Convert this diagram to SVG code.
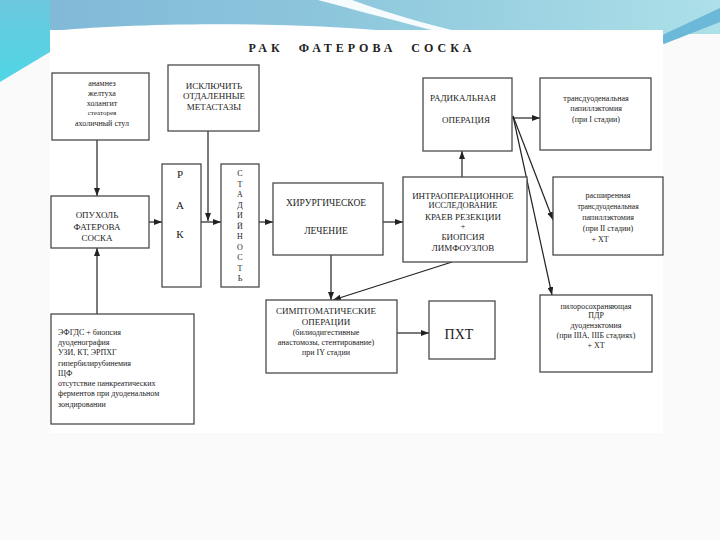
<svg xmlns="http://www.w3.org/2000/svg" width="720" height="540" viewBox="0 0 720 540">
<defs>
<linearGradient id="band" x1="0" y1="0" x2="1" y2="0">
<stop offset="0" stop-color="#7fb7d6"/>
<stop offset="0.45" stop-color="#8cc6dc"/>
<stop offset="1" stop-color="#ade0e8"/>
</linearGradient>
<linearGradient id="leftc" x1="0" y1="0" x2="0" y2="1">
<stop offset="0" stop-color="#6cc8de"/>
<stop offset="1" stop-color="#4fd6e6"/>
</linearGradient>
<marker id="ar" markerWidth="8" markerHeight="6" refX="8" refY="3" orient="auto" markerUnits="userSpaceOnUse">
<path d="M0,0 L8,3 L0,6 z" fill="#222"/>
</marker>
<style>
.box{fill:#fff;stroke:#4a4a4a;stroke-width:1.3}
.t{font-family:"Liberation Serif","DejaVu Serif",serif;fill:#222;text-anchor:middle}
.s{font-size:8px}
.m{font-size:9px}
.c{stroke:#222;stroke-width:1.2;fill:none;marker-end:url(#ar)}
</style>
</defs>
<rect width="720" height="540" fill="#fafafa"/>
<!-- top decoration -->
<rect x="0" y="0" width="720" height="34" fill="url(#band)"/>
<path d="M0,0 L50,0 L50,52 L0,82 Z" fill="url(#leftc)"/>
<path d="M318,0 L352,0 C385,12 425,24 460,32 L440,32 C400,22 355,10 318,0 Z" fill="#f6fbfd"/>
<path d="M50,31 C120,24 260,20 390,31 Z" fill="#ffffff"/>
<path d="M656,38 L720,8 L720,22 L664,44 Z" fill="#6bb8d8"/>
<rect x="50" y="30" width="613" height="403" fill="#ffffff"/>
<!-- title -->
<text x="362" y="52" class="t" style="font-size:12px;font-weight:bold;letter-spacing:4px;word-spacing:8px">РАК ФАТЕРОВА СОСКА</text>

<g id="connectors">
<line class="c" x1="97" y1="140" x2="97" y2="196"/>
<line class="c" x1="97" y1="314" x2="97" y2="248"/>
<line class="c" x1="149" y1="222" x2="162" y2="222"/>
<line class="c" x1="208" y1="131" x2="208" y2="221"/>
<line class="c" x1="201" y1="222" x2="221" y2="222"/>
<line class="c" x1="259" y1="222" x2="273" y2="222"/>
<line class="c" x1="383" y1="222" x2="403" y2="222"/>
<line class="c" x1="462" y1="177" x2="462" y2="151"/>
<line class="c" x1="512" y1="118" x2="540" y2="118"/>
<line class="c" x1="513" y1="116" x2="553" y2="220"/>
<line class="c" x1="513" y1="116" x2="552" y2="295"/>
<line class="c" x1="331" y1="255" x2="331" y2="300"/>
<line class="c" x1="452" y1="262" x2="333" y2="300"/>
<line class="c" x1="397" y1="333" x2="429" y2="333"/>
</g>

<g id="anamnez">
<rect class="box" x="52" y="73" width="97" height="67"/>
<text class="t s" x="102" y="86">анамнез</text>
<text class="t s" x="102" y="96">желтуха</text>
<text class="t s" x="102" y="106">холангит</text>
<text class="t" style="font-size:7px" x="102" y="115">стеаторея</text>
<text class="t s" x="102" y="126">ахоличный стул</text>
</g>

<g id="isklyuchit">
<rect class="box" x="168" y="65" width="91" height="66"/>
<text class="t m" x="214" y="89">ИСКЛЮЧИТЬ</text>
<text class="t m" x="214" y="99">ОТДАЛЕННЫЕ</text>
<text class="t m" x="214" y="110">МЕТАСТАЗЫ</text>
</g>

<g id="opukhol">
<rect class="box" x="51" y="196" width="98" height="52"/>
<text class="t m" x="97" y="218">ОПУХОЛЬ</text>
<text class="t m" x="97" y="230">ФАТЕРОВА</text>
<text class="t m" x="97" y="241">СОСКА</text>
</g>

<g id="rak">
<rect class="box" x="162" y="164" width="39" height="123"/>
<text class="t" style="font-size:11px" x="180" y="178">Р</text>
<text class="t" style="font-size:11px" x="180" y="209">А</text>
<text class="t" style="font-size:11px" x="180" y="238">К</text>
</g>

<g id="stadiynost">
<rect class="box" x="221" y="164" width="38" height="123"/>
<text class="t" style="font-size:8px"><tspan x="240" y="176">С</tspan><tspan x="240" dy="10.5">Т</tspan><tspan x="240" dy="10.5">А</tspan><tspan x="240" dy="10.5">Д</tspan><tspan x="240" dy="10.5">И</tspan><tspan x="240" dy="10.5">Й</tspan><tspan x="240" dy="10.5">Н</tspan><tspan x="240" dy="10.5">О</tspan><tspan x="240" dy="10.5">С</tspan><tspan x="240" dy="10.5">Т</tspan><tspan x="240" dy="10.5">Ь</tspan></text>
</g>

<g id="khirurgicheskoe">
<rect class="box" x="273" y="183" width="110" height="72"/>
<text class="t" style="font-size:9.5px" x="326" y="206">ХИРУРГИЧЕСКОЕ</text>
<text class="t" style="font-size:9.5px" x="326" y="234">ЛЕЧЕНИЕ</text>
</g>

<g id="intraop">
<rect class="box" x="403" y="177" width="124" height="85"/>
<text class="t m" x="463" y="199">ИНТРАОПЕРАЦИОННОЕ</text>
<text class="t" style="font-size:8.5px" x="463" y="208">ИССЛЕДОВАНИЕ</text>
<text class="t m" x="463" y="220">КРАЕВ  РЕЗЕКЦИИ</text>
<text class="t s" x="463" y="229">+</text>
<text class="t m" x="463" y="240">БИОПСИЯ</text>
<text class="t m" x="463" y="251">ЛИМФОУЗЛОВ</text>
</g>

<g id="radikalnaya">
<rect class="box" x="423" y="78" width="89" height="73"/>
<text class="t m" x="463" y="101">РАДИКАЛЬНАЯ</text>
<text class="t m" x="466" y="123">ОПЕРАЦИЯ</text>
</g>

<g id="transduod">
<rect class="box" x="540" y="78" width="111" height="72"/>
<text class="t s" x="596" y="101">трансдуоденальная</text>
<text class="t s" x="596" y="111">папиллэктомия</text>
<text class="t s" x="596" y="122">(при I стадии)</text>
</g>

<g id="rasshirennaya">
<rect class="box" x="553" y="177" width="110" height="78"/>
<text class="t s" x="608" y="198">расширенная</text>
<text class="t" style="font-size:7.5px" x="608" y="209">трансдуоденальная</text>
<text class="t s" x="608" y="220">папиллэктомия</text>
<text class="t s" x="608" y="231">(при II стадии)</text>
<text class="t s" x="600" y="242">+ ХТ</text>
</g>

<g id="pilorus">
<rect class="box" x="540" y="295" width="112" height="77"/>
<text class="t s" x="596" y="309">пилоросохраняющая</text>
<text class="t s" x="596" y="318">ПДР</text>
<text class="t s" x="596" y="328">дуоденэктомия</text>
<text class="t s" x="596" y="338">(при  IIIA, IIIБ стадиях)</text>
<text class="t s" x="596" y="348">+ ХТ</text>
</g>

<g id="simptomaticheskie">
<rect class="box" x="266" y="300" width="131" height="73"/>
<text class="t m" x="326" y="314">СИМПТОМАТИЧЕСКИЕ</text>
<text class="t m" x="326" y="325">ОПЕРАЦИИ</text>
<text class="t s" x="326" y="335">(билиодигестивные</text>
<text class="t s" x="326" y="345">анастомозы, стентирование)</text>
<text class="t s" x="326" y="355">при  IY стадии</text>
</g>

<g id="pkht">
<rect class="box" x="429" y="301" width="66" height="58"/>
<text class="t" style="font-size:14px" x="459" y="339">ПХТ</text>
</g>

<g id="efgds">
<rect class="box" x="51" y="314" width="143" height="110"/>
<g class="t s" style="text-anchor:start">
<text x="58" y="335">ЭФГДС + биопсия</text>
<text x="58" y="345">дуоденография</text>
<text x="58" y="355">УЗИ, КТ, ЭРПХГ</text>
<text x="58" y="366">гипербилирубинемия</text>
<text x="58" y="376">ЩФ</text>
<text x="58" y="386">отсутствие панкреатических</text>
<text x="58" y="396">ферментов при дуоденальном</text>
<text x="58" y="407">зондировании</text>
</g>
</g>
</svg>
